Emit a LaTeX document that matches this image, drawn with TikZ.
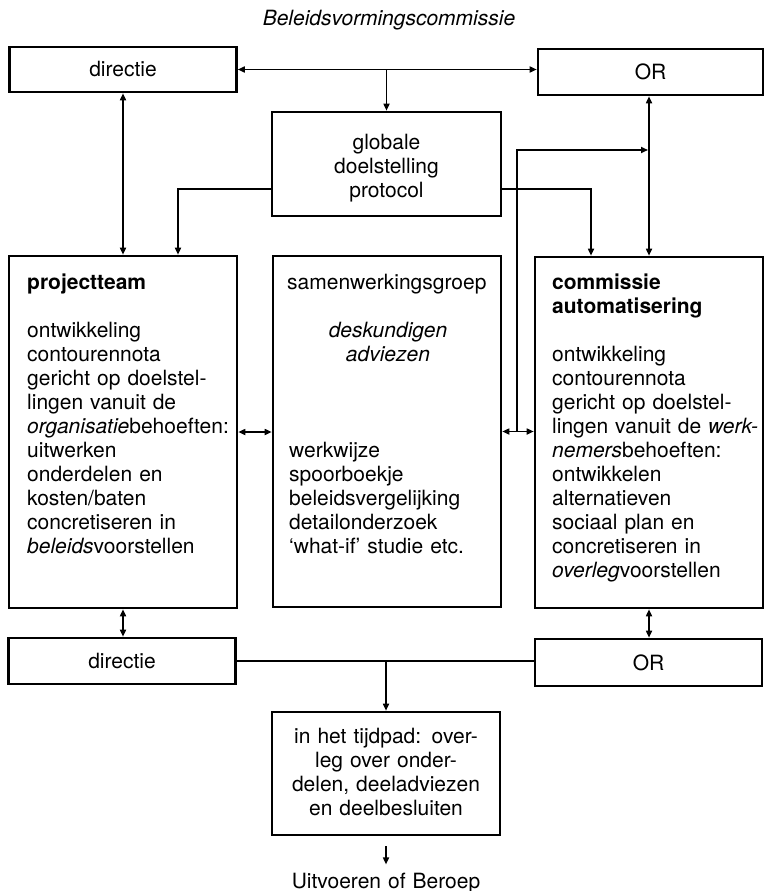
\documentclass[tikz,border=0pt]{standalone}
\usepackage{fontspec}
\setmainfont{TeX Gyre Heros}
\usetikzlibrary{arrows.meta}
\newcommand\dtxt{\fontsize{21}{24}\selectfont}
\begin{document}
\begin{tikzpicture}[x=1pt,y=-1pt,
  box/.style={draw,line width=2.6pt,inner sep=0pt,font=\dtxt},
  conn/.style={line width=1.6pt,>={Triangle[length=7pt,width=6pt]}},
  txtl/.style={inner sep=0pt,text width=230pt,align=left,font=\dtxt},
  txtc/.style={inner sep=0pt,text width=320pt,align=center,font=\dtxt}]
\useasboundingbox (0,0) rectangle (771,891);

% title
\node[txtc,anchor=base] (title) at (389,26) {\itshape Beleidsvormingscommissie};

% boxes
\node[box,minimum width=227pt,minimum height=45pt] (dirT) at (123,69.5) {directie};
\node[box,minimum width=225pt,minimum height=46pt] (orT) at (650.5,72) {OR};
\node[box,minimum width=229pt,minimum height=104pt] (glob) at (386.5,164) {};
\node[box,minimum width=228pt,minimum height=352pt] (pt) at (123,432) {};
\node[box,minimum width=228pt,minimum height=351pt] (sw) at (387,431.5) {};
\node[box,minimum width=228pt,minimum height=351pt] (comm) at (649,432.5) {};
\node[box,minimum width=227pt,minimum height=46pt] (dirB) at (122,661) {directie};
\node[box,minimum width=227pt,minimum height=47pt] (orB) at (648.5,662.5) {OR};
\node[box,minimum width=228pt,minimum height=123pt] (fin) at (386,773.5) {};

% box texts
\node[txtc,anchor=base] (globText) at (386.5,149) {globale\\doelstelling\\protocol};
\node[txtl,anchor=base west] (ptText) at (27,289) {\textbf{projectteam}\\[24pt]
  ontwikkeling\\contourennota\\gericht op doelstel-\\lingen vanuit de\\
  {\itshape organisatie}behoeften:\\uitwerken\\onderdelen en\\kosten/baten\\
  concretiseren in\\{\itshape beleids}voorstellen};
\node[txtl,anchor=base west] (swHead) at (287,289) {samenwerkingsgroep};
\node[txtc,anchor=base] (swExp) at (388,337) {\itshape deskundigen\\adviezen};
\node[txtl,anchor=base west] (swList) at (289,457) {werkwijze\\spoorboekje\\
  beleidsvergelijking\\detailonderzoek\\‘what-if’ studie etc.};
\node[txtl,anchor=base west] (commText) at (552,289) {\textbf{commissie}\\
  \textbf{automatisering}\\[24pt]
  ontwikkeling\\contourennota\\gericht op doelstel-\\lingen vanuit de {\itshape werk-}\\
  {\itshape nemers}behoeften:\\ontwikkelen\\alternatieven\\sociaal plan en\\
  concretiseren in\\{\itshape overleg}voorstellen};
\node[txtc,anchor=base] (finText) at (386,743) {in het tijdpad: over-\\
  leg over onder-\\delen, deeladviezen\\en deelbesluiten};
\node[txtc,anchor=base] (outcome) at (386,888) {Uitvoeren of Beroep};

% connectors, top part
\draw[conn,<->] (dirT.east) -- (dirT.east -| orT.west);
\coordinate (topSplit) at (dirT.east -| glob.north);
\draw[conn,->] (topSplit) -- (glob.north);
\draw[conn,<->] (dirT.south) -- (dirT.south |- pt.north);
\draw[conn,<->] (comm.north |- orT.south) -- (comm.north);
\coordinate (gL) at (glob.west |- 0,189);
\coordinate (gR) at (glob.east |- 0,189);
\draw[conn,->] (gL) -| (pt.north -| 178,0);
\draw[conn,->] (gR) -| (comm.north -| 591,0);

% connectors, middle part
\draw[conn,<->] (pt.east) -- (pt.east -| sw.west);
\draw[conn,<->] (sw.east) -- (sw.east -| comm.west);
\coordinate (vJoin) at (sw.east -| 517,0);
\draw[conn,->,shorten >=1pt] (vJoin) |- (comm.north |- 0,150);

% connectors, bottom part
\draw[conn,<->] (pt.south) -- (pt.south |- dirB.north);
\draw[conn,<->] (comm.south) -- (comm.south |- orB.north);
\draw[conn] (dirB.east) -- (dirB.east -| orB.west);
\coordinate (botSplit) at (dirB.east -| fin.north);
\draw[conn,->] (botSplit) -- (fin.north);
\draw[conn,->] ([yshift=-10pt]fin.south) -- ([yshift=8pt]outcome.north);
\end{tikzpicture}
\end{document}
